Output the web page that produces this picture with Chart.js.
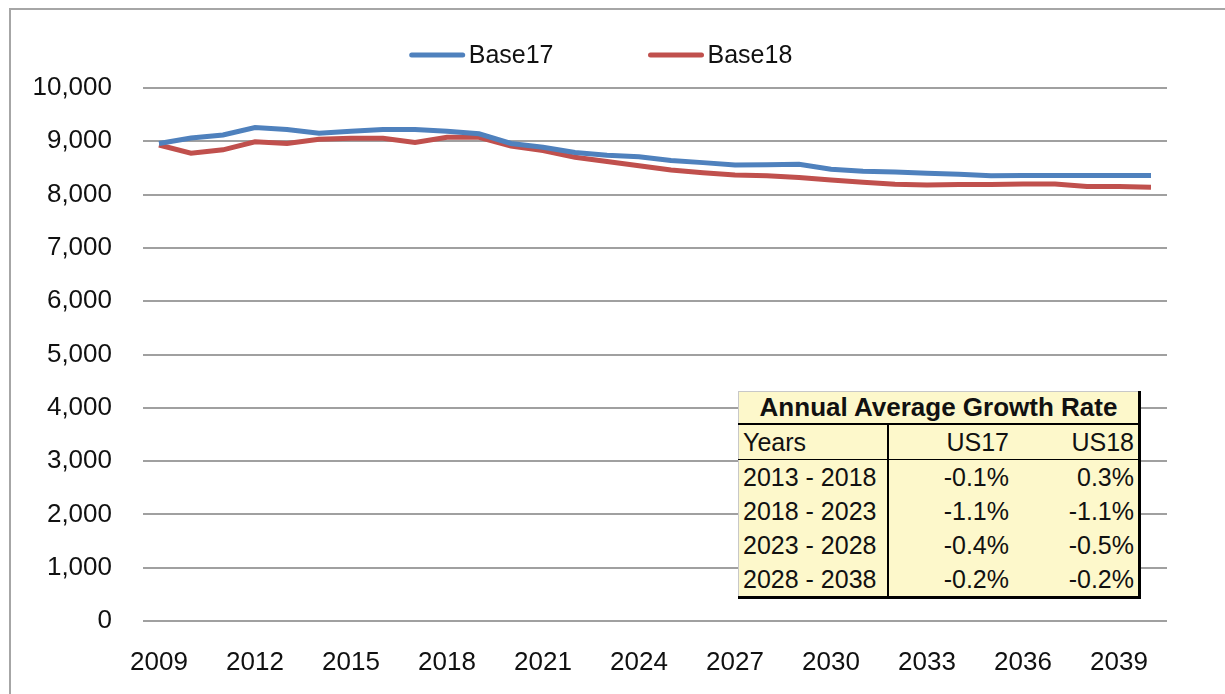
<!DOCTYPE html>
<html>
<head>
<meta charset="utf-8">
<script src="https://cdn.jsdelivr.net/npm/chart.js@4.4.1/dist/chart.umd.min.js"></script>
<style>
    body { margin: 0; background: #fff; overflow: hidden; }
    #wrap { position: relative; width: 1225px; height: 694px; }
    #frame { position: absolute; left: 9px; top: 8px; width: 1400px; height: 900px; border: 2px solid #a6a6a6; }
    #chart { position: absolute; left: 0; top: 0; }
    #rates {
        position: absolute; left: 738px; top: 391px; width: 403px;
        border-collapse: collapse; background: #fdf8cb;
        border-top: 1px solid #c8c8c8; border-left: 1px solid #c8c8c8;
        border-right: 3px solid #000; border-bottom: 3px solid #000;
        font-family: "Liberation Sans", Arial, sans-serif; font-size: 25px; color: #111;
    }
    #rates td { padding: 0 4px; height: 34px; line-height: 34px; white-space: nowrap; }
    #rates .title td { font-weight: bold; font-size: 26px; text-align: center; height: 31px; line-height: 31px; border-bottom: 2px solid #000; }
    #rates .head td { border-bottom: 1px solid #000; }
    #rates td.c0 { width: 140px; border-right: 2px solid #000; text-align: left; }
    #rates td.c1 { width: 116px; text-align: right; }
    #rates td.c2 { text-align: right; }
</style>
</head>
<body>
<div id="wrap">
    <div id="frame"></div>
    <canvas id="chart" width="1225" height="694"></canvas>
    <table id="rates"></table>
</div>
<script>
const years = [2009, 2010, 2011, 2012, 2013, 2014, 2015, 2016, 2017, 2018, 2019, 2020, 2021, 2022, 2023, 2024,
               2025, 2026, 2027, 2028, 2029, 2030, 2031, 2032, 2033, 2034, 2035, 2036, 2037, 2038, 2039, 2040];
const base17 = [8960, 9060, 9120, 9260, 9220, 9150, 9190, 9220, 9220, 9190, 9140, 8960, 8890, 8790, 8740, 8710,
                8640, 8600, 8555, 8560, 8570, 8475, 8440, 8425, 8400, 8380, 8355, 8360, 8360, 8360, 8360, 8360];
const base18 = [8930, 8775, 8840, 8990, 8960, 9040, 9055, 9055, 8980, 9075, 9075, 8910, 8825, 8700, 8620, 8540,
                8460, 8410, 8370, 8355, 8320, 8275, 8230, 8195, 8180, 8190, 8190, 8200, 8200, 8150, 8150, 8140];

const tableTitle = 'Annual Average Growth Rate';
const tableHead = ['Years', 'US17', 'US18'];
const periods = ['2013 - 2018', '2018 - 2023', '2023 - 2028', '2028 - 2038'];
const rateUS17 = ['-0.1%', '-1.1%', '-0.4%', '-0.2%'];
const rateUS18 = ['0.3%', '-1.1%', '-0.5%', '-0.2%'];

// growth-rate box
(function() {
    const t = document.getElementById('rates');
    let html = '<tr class="title"><td colspan="3">' + tableTitle + '</td></tr>';
    html += '<tr class="head"><td class="c0">' + tableHead[0] + '</td><td class="c1">' + tableHead[1] +
            '</td><td class="c2">' + tableHead[2] + '</td></tr>';
    periods.forEach(function(p, i) {
        html += '<tr><td class="c0">' + p + '</td><td class="c1">' + rateUS17[i] +
                '</td><td class="c2">' + rateUS18[i] + '</td></tr>';
    });
    t.innerHTML = html;
})();

const font = "'Liberation Sans', Arial, sans-serif";

// line-style legend like the spreadsheet one
const lineLegend = {
    id: 'lineLegend',
    afterDraw: function(chart) {
        const ctx = chart.ctx;
        const sets = chart.data.datasets;
        const lineLen = 55, gap = 4, spacing = 95;
        ctx.save();
        ctx.font = '25px ' + font;
        ctx.textBaseline = 'middle';
        ctx.textAlign = 'left';
        const widths = sets.map(function(d) { return lineLen + gap + ctx.measureText(d.label).width; });
        const total = widths.reduce(function(a, b) { return a + b; }, 0) + spacing * (sets.length - 1);
        let x = 601 - total / 2;
        const y = 55;
        sets.forEach(function(d, i) {
            ctx.strokeStyle = d.borderColor;
            ctx.lineWidth = 5;
            ctx.lineCap = 'round';
            ctx.beginPath();
            ctx.moveTo(x + 2, y);
            ctx.lineTo(x + lineLen - 2, y);
            ctx.stroke();
            ctx.fillStyle = '#111';
            ctx.fillText(d.label, x + lineLen + gap, y + 1);
            x += widths[i] + spacing;
        });
        ctx.restore();
    }
};

new Chart(document.getElementById('chart'), {
    type: 'line',
    data: {
        labels: years,
        datasets: [{
            label: 'Base17',
            data: base17,
            borderColor: '#4f81bd',
            borderWidth: 5,
            pointRadius: 0,
            tension: 0
        }, {
            label: 'Base18',
            data: base18,
            borderColor: '#c0504d',
            borderWidth: 5,
            pointRadius: 0,
            tension: 0
        }]
    },
    options: {
        responsive: false,
        animation: false,
        layout: { padding: { top: 88, right: 58, bottom: 23, left: 0 } },
        plugins: {
            legend: { display: false },
            tooltip: { enabled: false }
        },
        scales: {
            x: {
                offset: true,
                afterFit: function(scale) { scale.height = 50; },
                grid: { display: false },
                border: { display: false },
                ticks: {
                    autoSkip: false,
                    maxRotation: 0,
                    padding: 21,
                    color: '#111',
                    font: { family: font, size: 26, lineHeight: 1 },
                    callback: function(v, i) { return (years[i] - 2009) % 3 === 0 ? years[i] : ''; }
                }
            },
            y: {
                min: 0,
                max: 10000,
                afterFit: function(scale) { scale.width = 143; },
                grid: { color: '#a0a0a0', lineWidth: 2, drawTicks: false },
                border: { display: false },
                ticks: {
                    stepSize: 1000,
                    padding: 31,
                    color: '#111',
                    font: { family: font, size: 26 },
                    callback: function(v) { return v.toLocaleString('en-US'); }
                }
            }
        }
    },
    plugins: [lineLegend]
});
</script>
</body>
</html>
